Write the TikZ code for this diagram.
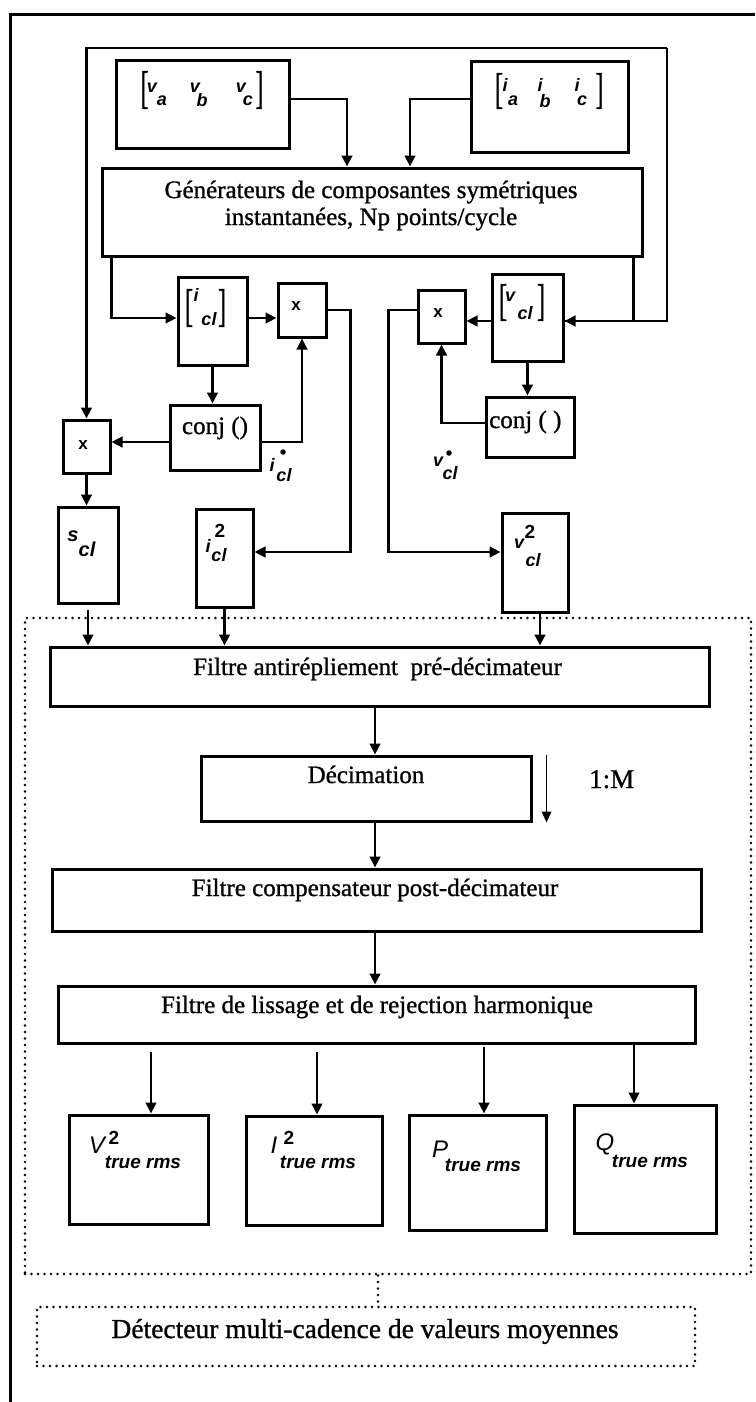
\documentclass[tikz,border=0pt]{standalone}
\usepackage{fontspec}
\usepackage{graphicx}
\setmainfont{Liberation Serif}
\newfontfamily\heavyserif{Liberation Serif}[FakeBold=1.0]
\newfontfamily\labfont{Liberation Sans}
\usetikzlibrary{arrows.meta,calc}
\begin{document}
\begin{tikzpicture}[x=1pt,y=-1pt,
  box/.style={draw,line width=3pt,inner sep=0pt},
  dotbox/.style={draw,line width=2.8pt,line cap=round,dash pattern=on 0pt off 6.5pt,inner sep=0pt},
  dotline/.style={line width=2.8pt,line cap=round,dash pattern=on 0pt off 6.5pt},
  conn/.style={line width=2.7pt,-{Triangle[length=11pt,width=10.5pt]}},
  thinconn/.style={line width=1.8pt,-{Triangle[length=11pt,width=9.5pt]}},
  plainline/.style={line width=2.7pt},
  txt/.style={inner sep=0pt,anchor=base,font=\heavyserif\fontsize{25}{25}\selectfont},
  lab/.style={inner sep=0pt,font=\labfont\bfseries\itshape\fontsize{18}{18}\selectfont},
  sublab/.style={inner sep=0pt,font=\labfont\bfseries\itshape\fontsize{18}{18}\selectfont},
  brk/.style={inner sep=0pt,font=\heavyserif\fontsize{24}{24}\selectfont},
  mult/.style={inner sep=0pt,font=\labfont\bfseries\fontsize{17}{17}\selectfont},
  stardot/.style={circle,fill,inner sep=0pt,minimum size=5.5pt},
  outlab/.style={inner sep=0pt,font=\labfont\itshape\fontsize{24}{24}\selectfont},
  outsup/.style={inner sep=0pt,font=\labfont\bfseries\fontsize{19}{19}\selectfont},
  outsub/.style={inner sep=0pt,font=\labfont\bfseries\itshape\fontsize{19}{19}\selectfont}
]
\useasboundingbox (0,0) rectangle (755,1402);
% outer frame (cut by the page on the right and at the bottom)
\draw[line width=3pt] (755,15) -- (10,15) -- (10,1402);

% ---------- boxes ----------
\node[box,minimum width=173pt,minimum height=87pt] (vin) at (202.5,104.5) {};
\node[box,minimum width=157pt,minimum height=90pt] (iin) at (549.5,107) {};
\node[box,minimum width=540pt,minimum height=88pt] (gen) at (372,212) {};
\node[box,minimum width=69pt,minimum height=88pt] (icl) at (212.5,321) {};
\node[box,minimum width=48pt,minimum height=54pt] (mi) at (302,310) {};
\node[box,minimum width=90pt,minimum height=65pt] (conji) at (215,437.5) {};
\node[box,minimum width=47pt,minimum height=53pt] (ms) at (86.5,446.5) {};
\node[box,minimum width=60pt,minimum height=96pt] (scl) at (88,555) {};
\node[box,minimum width=57pt,minimum height=98pt] (isq) at (224.5,558) {};
\node[box,minimum width=71pt,minimum height=87pt] (vcl) at (527.5,317.5) {};
\node[box,minimum width=47pt,minimum height=53pt] (mv) at (441.5,316.5) {};
\node[box,minimum width=88pt,minimum height=60pt] (conjv) at (530,427) {};
\node[box,minimum width=66pt,minimum height=99pt] (vsq) at (535,562.5) {};
\node[dotbox,minimum width=726pt,minimum height=656pt] (grp) at (388,946) {};
\node[box,minimum width=659pt,minimum height=59pt] (fa) at (379.5,676.5) {};
\node[box,minimum width=330pt,minimum height=65pt] (dec) at (366,788.5) {};
\node[box,minimum width=649pt,minimum height=62pt] (fb) at (376.5,900) {};
\node[box,minimum width=637pt,minimum height=57pt] (fc) at (376.5,1014.5) {};
\node[box,minimum width=139pt,minimum height=109pt] (oV) at (138.5,1169.5) {};
\node[box,minimum width=136pt,minimum height=109pt] (oI) at (314,1170.5) {};
\node[box,minimum width=137pt,minimum height=115pt] (oP) at (477.5,1172.5) {};
\node[box,minimum width=142pt,minimum height=128pt] (oQ) at (645,1169) {};
\node[dotbox,minimum width=658pt,minimum height=59pt] (det) at (366,1336.5) {};

% ---------- texts ----------
\node[txt] (tgen1) at (371,198) {Générateurs de composantes symétriques};
\node[txt] (tgen2) at (371,225) {instantanées, Np points/cycle};
\node[txt] (tfa) at (377.5,675) {Filtre antirépliement\ \ pré-décimateur};
\node[txt] (tdec) at (366,783) {Décimation};
\node[txt] (tfb) at (375,896) {Filtre compensateur post-décimateur};
\node[txt] (tfc) at (377,1013) {Filtre de lissage et de rejection harmonique};
\node[txt,font=\heavyserif\fontsize{27.5}{27.5}\selectfont] (tdet) at (365,1338) {Détecteur multi-cadence de valeurs moyennes};
\node[txt,anchor=base west,font=\heavyserif\fontsize{27}{27}\selectfont] (tM) at (589,788) {1:M};
\node[txt] (tconji) at (215,434) {conj ()};
\node[txt,anchor=base west] (tconjv) at (489,428) {conj ( )};

% ---------- vector labels ----------
\node[brk] (vinL) at (144.5,90) {\scalebox{1}[1.9]{[}};
\node[brk] (vinR) at (259.5,90) {\scalebox{1}[1.9]{]}};
\node[lab] (va) at (152,88) {v}; \node[sublab] (vas) at (162,101) {a};
\node[lab] (vb) at (195,88) {v}; \node[sublab] (vbs) at (202,100) {b};
\node[lab] (vc) at (241,88) {v}; \node[sublab] (vcs) at (248,101) {c};

\node[brk] (iinL) at (499,91) {\scalebox{1}[1.8]{[}};
\node[brk] (iinR) at (599.5,91) {\scalebox{1}[1.8]{]}};
\node[lab] (ia) at (505,85) {i}; \node[sublab] (ias) at (513,101) {a};
\node[lab] (ib) at (540,85) {i}; \node[sublab] (ibs) at (545,101) {b};
\node[lab] (ic) at (577,85) {i}; \node[sublab] (ics) at (582,101) {c};

\node[brk] (iclL) at (189,308) {\scalebox{1}[1.9]{[}};
\node[brk] (iclR) at (222,308) {\scalebox{1}[1.9]{]}};
\node[lab] (iclI) at (196,295) {i}; \node[sublab] (iclS) at (209,319) {cl};

\node[brk] (vclL) at (503,302.5) {\scalebox{1}[1.85]{[}};
\node[brk] (vclR) at (541,302.5) {\scalebox{1}[1.85]{]}};
\node[lab] (vclV) at (510,297) {v}; \node[sublab] (vclS) at (525,313) {cl};

\node[mult] (xi) at (296,306) {x};
\node[mult] (xs) at (83,445) {x};
\node[mult] (xv) at (438,313) {x};

\node[lab,font=\labfont\bfseries\itshape\fontsize{20}{20}\selectfont] (sS) at (73,536) {s};
\node[sublab,font=\labfont\bfseries\itshape\fontsize{20}{20}\selectfont] (sCl) at (87,549) {cl};

\node[lab] (isqI) at (208,546) {i};
\node[outsup] (isq2) at (220,531) {2};
\node[sublab] (isqS) at (219,555) {cl};

\node[lab] (vsqV) at (519,544) {v};
\node[outsup] (vsq2) at (530,532) {2};
\node[sublab] (vsqS) at (533,560) {cl};

\node[stardot] (istD) at (283,452) {};
\node[lab] (istI) at (272,465) {i};
\node[sublab] (istS) at (284,475) {cl};

\node[stardot] (vstD) at (449,453) {};
\node[lab] (vstV) at (438,462) {v};
\node[sublab] (vstS) at (450,473) {cl};

% output labels
\node[outlab] (oVl) at (97,1145) {V};
\node[outsup] (oV2) at (114,1138) {2};
\node[outsub] (oVs) at (143,1162) {true rms};
\node[outlab] (oIl) at (274,1145) {I};
\node[outsup] (oI2) at (289,1138) {2};
\node[outsub] (oIs) at (318,1162) {true rms};
\node[outlab] (oPl) at (440,1149) {P};
\node[outsub] (oPs) at (483,1165) {true rms};
\node[outlab] (oQl) at (605,1144) {Q};
\node[outsub] (oQs) at (650,1161) {true rms};

% ---------- connectors ----------
\draw[conn] ([yshift=5.5pt]vin.east) -| ([xshift=-25pt]gen.north);
\draw[conn] ([yshift=8pt]iin.west) -| ([xshift=38pt]gen.north);
\draw[conn] ([xshift=11pt]gen.south west) |- ([yshift=3pt]icl.west);
\coordinate (p1) at ([yshift=3pt]icl.east);
\draw[conn] (p1) -- (p1 -| mi.west);
\draw[conn] (mi.east) -- ++(23,0) |- ([yshift=6pt]isq.east);
\draw[conn] (icl.south) -- (icl.south |- conji.north);
\coordinate (p2) at ([yshift=-4.5pt]conji.east);
\draw[conn] (p2) -| (mi.south);
\coordinate (p3) at ([yshift=-4.5pt]conji.west);
\draw[conn] (p3) -- (p3 -| ms.east);
\draw[conn] (ms.south) -- (ms.south |- scl.north);

\coordinate (loopTR) at (667,48);
\coordinate (p4) at ([yshift=-3.5pt]vcl.east);
\draw[conn] (loopTR) -| (ms.north);
\draw[conn] (loopTR) |- (p4);
\draw[plainline] ([xshift=-10pt]gen.south east) |- (p4);

\coordinate (p5) at ([yshift=-3.5pt]vcl.west);
\draw[conn] (p5) -- (p5 -| mv.east);
\coordinate (p6) at ([yshift=6.5pt]mv.west);
\draw[conn] (p6) -- ++(-28,0) |- ([yshift=10.5pt]vsq.west);
\draw[conn] (vcl.south) -- (vcl.south |- conjv.north);
\coordinate (p7) at ([yshift=4pt]conjv.west);
\draw[conn] (p7) -| (mv.south);

\coordinate (sclout) at ([yshift=-5pt]scl.south);
\draw[conn] (sclout) -- (sclout |- fa.north);
\draw[conn] (isq.south) -- (isq.south |- fa.north);
\coordinate (p8) at ([xshift=5pt]vsq.south);
\draw[conn] (p8) -- (p8 |- fa.north);

\coordinate (decin) at ([xshift=9pt]dec.north);
\draw[conn] (decin |- fa.south) -- (decin);
\coordinate (fbin) at ([xshift=-1.5pt]fb.north);
\draw[conn] (fbin |- dec.south) -- (fbin);
\coordinate (fcin) at ([xshift=-1.5pt]fc.north);
\draw[conn] (fcin |- fb.south) -- (fcin);
\draw[thinconn] ([xshift=14pt]dec.north east) -- ([xshift=14pt]dec.south east);

\coordinate (fcs) at ([yshift=-7pt]fc.south);
\coordinate (oVin) at ([xshift=12.5pt]oV.north);
\coordinate (oIin) at ([xshift=3pt]oI.north);
\coordinate (oPin) at ([xshift=6.5pt]oP.north);
\coordinate (oQin) at ([xshift=-11pt]oQ.north);
\draw[conn] (fcs -| oVin) -- (oVin);
\draw[conn] (fcs -| oIin) -- (oIin);
\draw[conn] ([yshift=-2pt]fc.south -| oPin) -- (oPin);
\draw[conn] (fc.south -| oQin) -- (oQin);

\coordinate (detin) at ([xshift=12pt]det.north);
\draw[dotline] (detin |- grp.south) -- (detin);
\end{tikzpicture}
\end{document}
